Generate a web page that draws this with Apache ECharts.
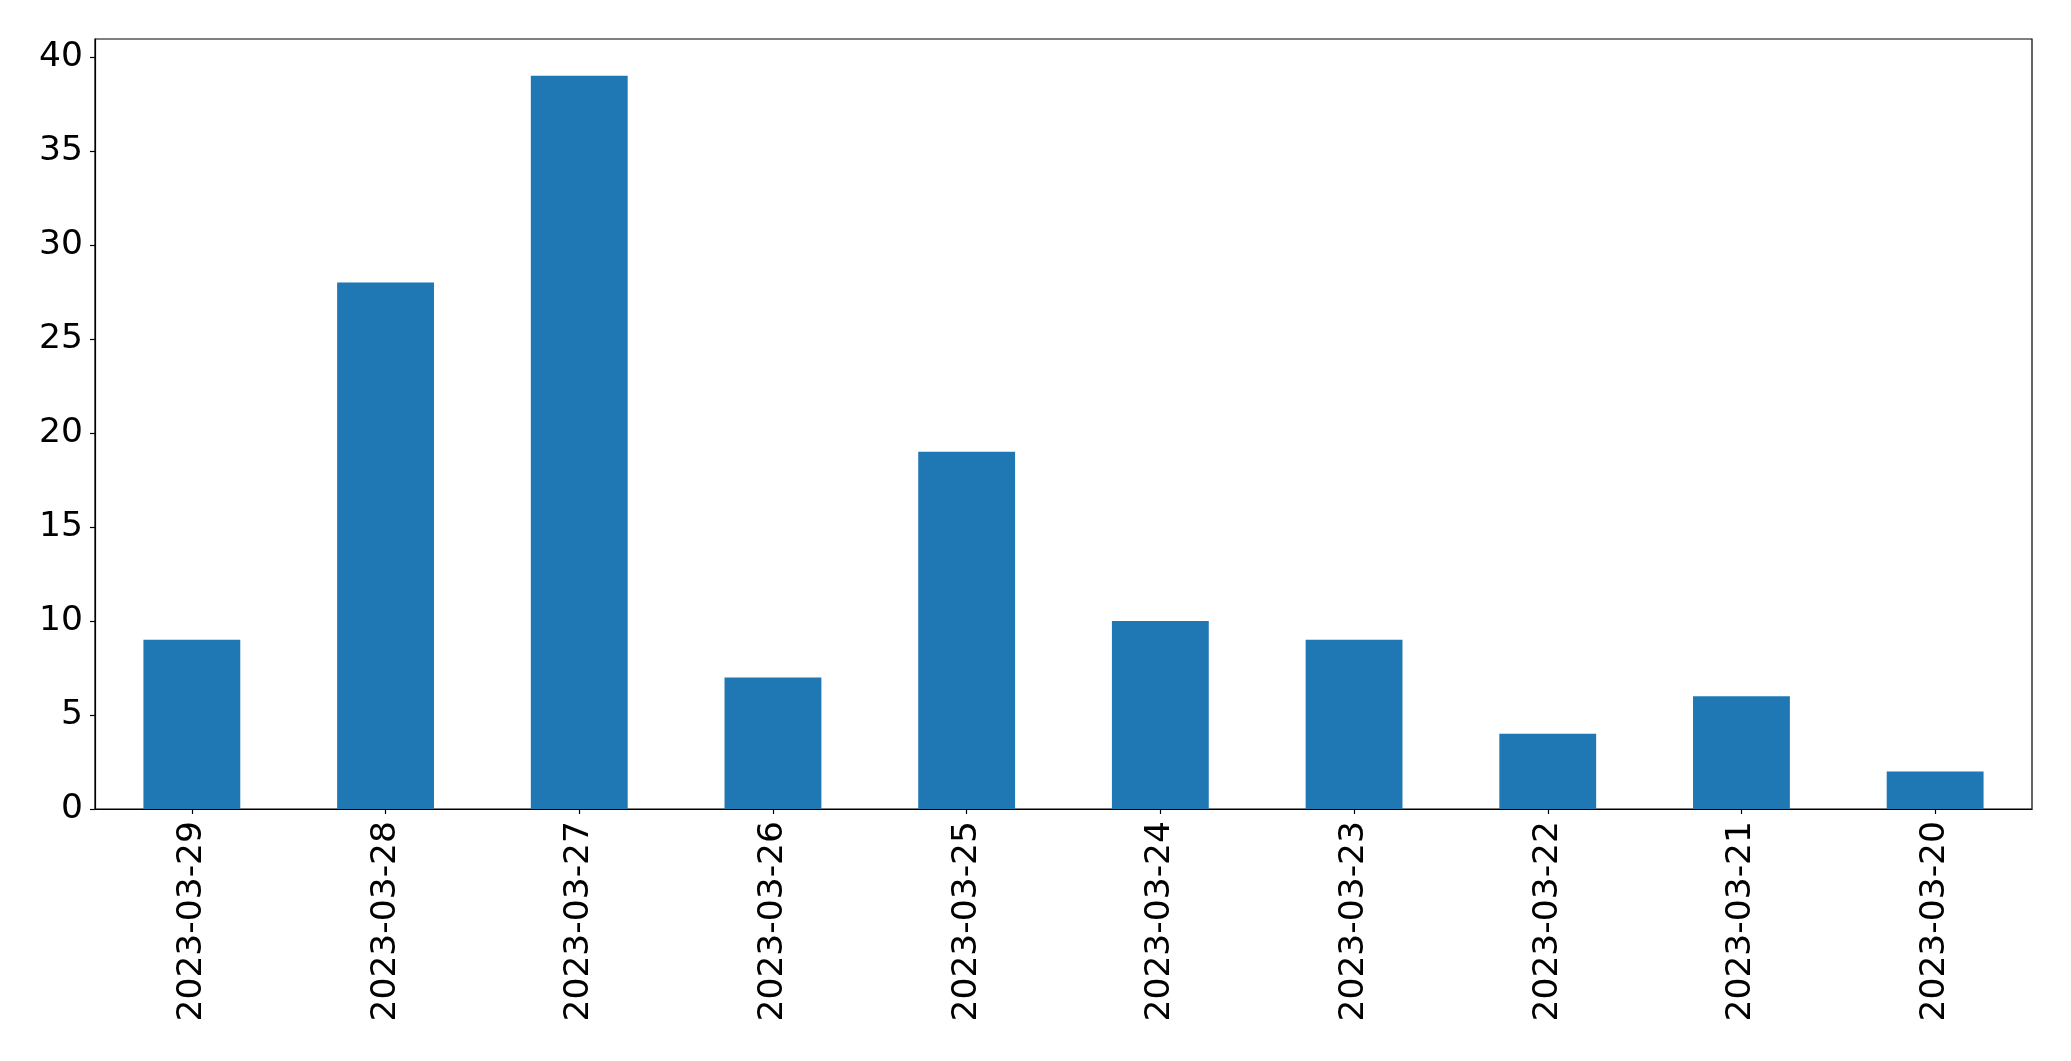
<!DOCTYPE html>
<html>
<head>
<meta charset="utf-8">
<script src="https://cdn.jsdelivr.net/npm/echarts@6/dist/echarts.min.js"></script>
<style>
html,body{margin:0;padding:0;background:#fff;}
#chart{width:2071px;height:1061px;}
</style>
</head>
<body>
<div id="chart"></div>
<script>
const categories = ["2023-03-29","2023-03-28","2023-03-27","2023-03-26","2023-03-25","2023-03-24","2023-03-23","2023-03-22","2023-03-21","2023-03-20"];
const counts = [9, 28, 39, 7, 19, 10, 9, 4, 6, 2];
const yMin = 0;
const yMax = 40.95;
const yStep = 5;

const chart = echarts.init(document.getElementById('chart'), null, {renderer: 'canvas'});
const font = '"DejaVu Sans", sans-serif';
chart.setOption({
  animation: false,
  backgroundColor: '#ffffff',
  grid: {
    left: 95, right: 39, top: 39, bottom: 252,
    show: true, borderColor: '#000', borderWidth: 1.2, backgroundColor: 'transparent'
  },
  xAxis: {
    type: 'category',
    data: categories,
    axisLine: {show: true, lineStyle: {color: '#000', width: 1.2}},
    axisTick: {show: true, alignWithLabel: true, length: 5, lineStyle: {color: '#000', width: 1.2}},
    axisLabel: {rotate: 90, fontSize: 34.5, fontFamily: font, color: '#000', margin: 12, interval: 0}
  },
  yAxis: {
    type: 'value',
    min: yMin, max: yMax, interval: yStep,
    splitLine: {show: false},
    axisLine: {show: true, lineStyle: {color: '#000', width: 1.2}},
    axisTick: {show: true, length: 5, lineStyle: {color: '#000', width: 1.2}},
    axisLabel: {fontSize: 34.5, fontFamily: font, color: '#000', margin: 12, showMaxLabel: false,
      formatter: v => (v % yStep === 0 ? String(v) : '')}
  },
  series: [{
    type: 'bar',
    data: counts,
    barWidth: '50%',
    itemStyle: {color: '#1f77b4'}
  }]
});
</script>
</body>
</html>
